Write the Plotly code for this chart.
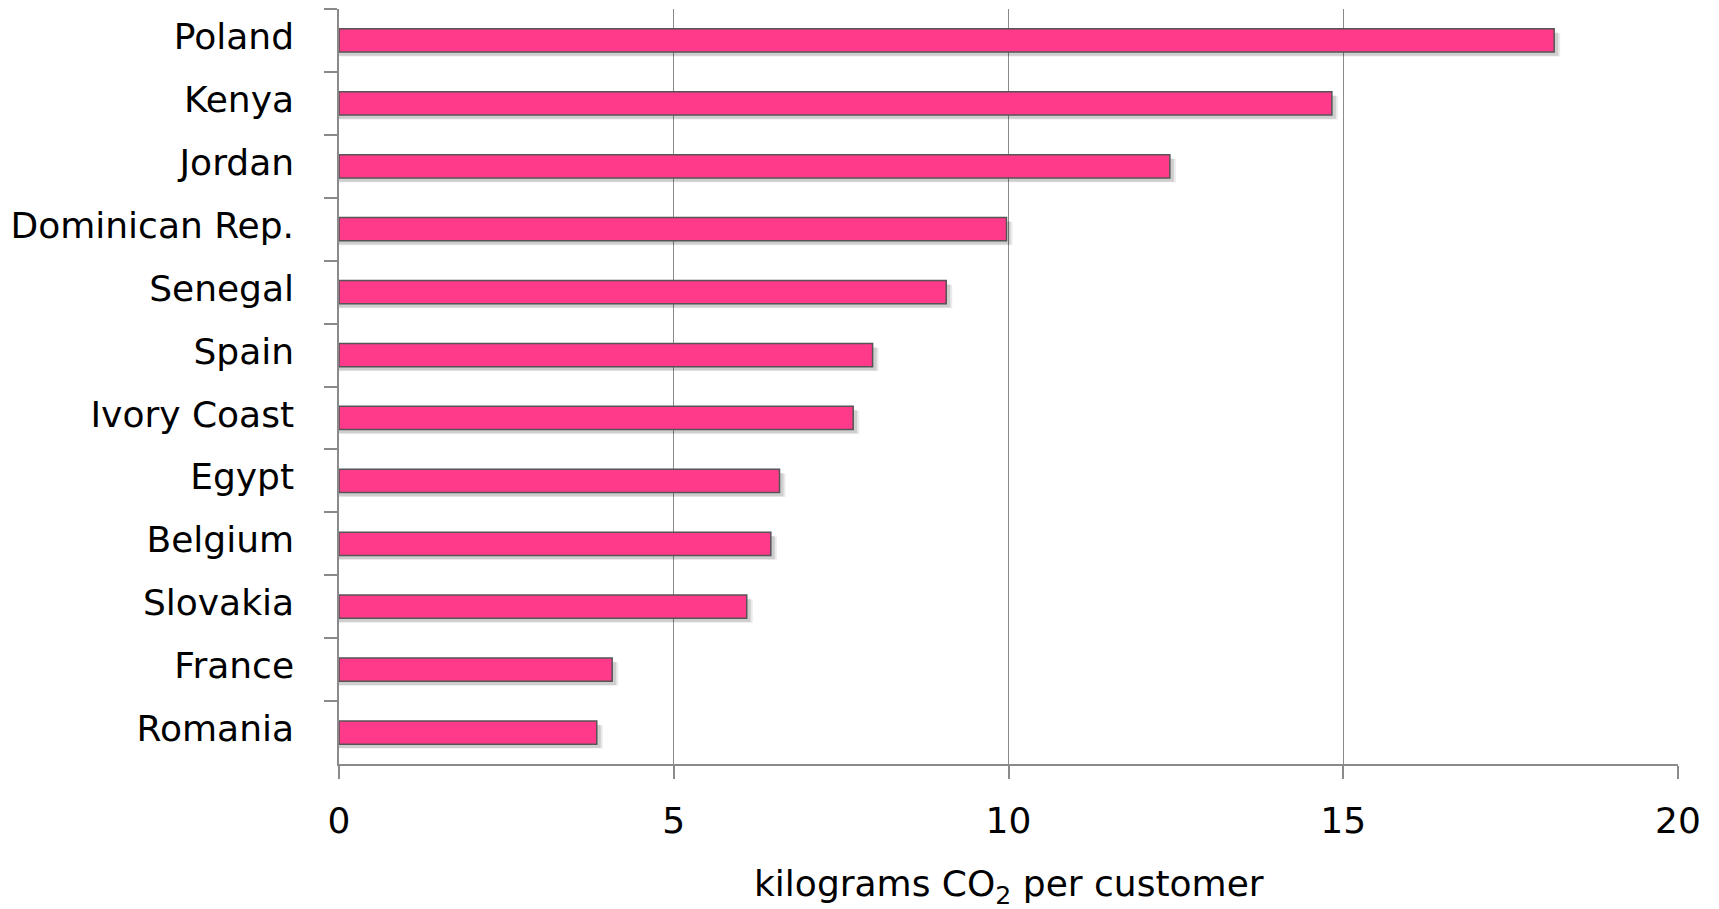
import plotly.graph_objects as go

countries = ["Poland", "Kenya", "Jordan", "Dominican Rep.", "Senegal", "Spain",
             "Ivory Coast", "Egypt", "Belgium", "Slovakia", "France", "Romania"]
values = [18.15, 14.83, 12.41, 9.97, 9.07, 7.97, 7.68, 6.58, 6.45, 6.09, 4.08, 3.85]
x_ticks = [0, 5, 10, 15, 20]
x_title = "kilograms CO<sub>2</sub> per customer"

FONT = "DejaVu Sans"
FS = 36

fig = go.Figure()
# soft drop shadow drawn from the same data (two layers for a blur-like edge)
for dx, off, alpha in [(0.09, -0.115, 0.08), (0.06, -0.125, 0.12)]:
    fig.add_trace(go.Bar(
        y=countries, x=[v + dx for v in values], orientation="h",
        width=0.37, offset=off,
        marker=dict(color=f"rgba(0,0,0,{alpha})", line=dict(width=0)),
        hoverinfo="skip", showlegend=False,
    ))
fig.add_trace(go.Bar(
    y=countries, x=values, orientation="h",
    width=0.37,
    marker=dict(color="#ff3a8a", line=dict(color="#555555", width=1.5)),
    showlegend=False,
))

fig.update_layout(
    width=1719, height=909,
    margin=dict(l=339, r=41, t=9, b=145),
    paper_bgcolor="white", plot_bgcolor="white",
    barmode="overlay",
    font=dict(family=FONT, size=FS, color="black"),
    xaxis=dict(
        range=[0, 20], tickvals=x_ticks, ticktext=[str(t) for t in x_ticks],
        showgrid=True, gridcolor="#8a8a8a", gridwidth=1,
        showline=True, linecolor="#8a8a8a", linewidth=1.5,
        ticks="outside", ticklen=13, tickcolor="#8a8a8a", tickwidth=1.5,
        ticklabelstandoff=11, zeroline=False,
        tickfont=dict(family=FONT, size=FS),
    ),
    yaxis=dict(
        categoryorder="array", categoryarray=countries, autorange="reversed",
        showline=True, linecolor="#8a8a8a", linewidth=1.5,
        ticks="outside", ticklen=13, tickcolor="#8a8a8a", tickwidth=1.5,
        tickson="boundaries", showgrid=False,
        ticklabelstandoff=36, ticklabelshift=4,
        tickfont=dict(family=FONT, size=FS),
    ),
    annotations=[dict(
        text=x_title, xref="paper", yref="paper", x=0.5, y=0,
        xanchor="center", yanchor="middle", yshift=-122, showarrow=False,
        font=dict(family=FONT, size=FS, color="black"),
    )],
)

fig.write_html("out.html")
